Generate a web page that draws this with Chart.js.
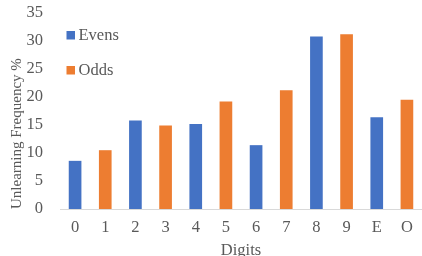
<!DOCTYPE html>
<html>
<head>
<meta charset="utf-8">
<script src="https://cdn.jsdelivr.net/npm/chart.js@4"></script>
<style>
  html, body { margin:0; padding:0; background:#fff; }
  #wrap { width:422px; height:256px; }
</style>
</head>
<body>
<div id="wrap"><canvas id="c"></canvas></div>
<script>
'use strict';
// ── Unlearning frequency by digit ──────────────────────

const digits = ['0', '1', '2', '3', '4', '5', '6', '7', '8', '9', 'E', 'O'];
const evens  = [8.6, null, 15.8, null, 15.2, null, 11.4, null, 30.8, null, 16.4, null];
const odds   = [null, 10.5, null, 14.9, null, 19.2, null, 21.2, null, 31.2, null, 19.5];
const yTicks = [0, 5, 10, 15, 20, 25, 30, 35];

const BLUE = '#4472C4', ORANGE = '#ED7D31', TEXT = '#595959';
const FONT = "'Liberation Serif', 'Times New Roman', serif";

// legend drawn inside the plot, stacked, like the original
const insideLegend = {
  id: 'insideLegend',
  afterDraw(chart) {
    const { ctx, chartArea } = chart;
    ctx.save();
    ctx.font = `16.5px ${FONT}`;
    ctx.textBaseline = 'middle';
    chart.data.datasets.forEach((ds, i) => {
      const y = chartArea.top + 22 + i * 35;
      const x = chartArea.left + 6.5;
      ctx.fillStyle = ds.backgroundColor;
      ctx.fillRect(x, y - 4, 8.5, 8.5);
      ctx.fillStyle = TEXT;
      ctx.fillText(ds.label, x + 12, y + 1);
    });
    ctx.restore();
  },
};

new Chart(document.getElementById('c'), {
  type: 'bar',
  data: {
    labels: digits,
    datasets: [
      { label: 'Evens', data: evens, backgroundColor: BLUE },
      { label: 'Odds',  data: odds,  backgroundColor: ORANGE },
    ],
  },
  options: {
    responsive: true, maintainAspectRatio: false, animation: false,
    layout: { padding: { top: 13, right: 0, left: 0, bottom: 0 } },
    datasets: { bar: { grouped: false, categoryPercentage: 1, barPercentage: 0.42 } },
    plugins: { legend: { display: false }, tooltip: { enabled: false } },
    scales: {
      x: {
        grid: { display: false },
        border: { display: true, color: '#D9D9D9', width: 1 },
        ticks: { color: TEXT, font: { family: FONT, size: 16.5 }, padding: 1 },
        title: { display: true, text: 'Digits', color: TEXT, font: { family: FONT, size: 16.5, lineHeight: 0.6 }, padding: { top: 0, bottom: 0 } },
        afterFit: s => { s.height = 47; s.paddingLeft = 0; s.paddingRight = 0; },
      },
      y: {
        min: 0, max: 35,
        afterBuildTicks: s => { s.ticks = yTicks.map(v => ({ value: v })); },
        grid: { display: false },
        border: { display: false },
        ticks: { color: TEXT, font: { family: FONT, size: 16.5 }, padding: 9 },
        title: { display: true, text: 'Unlearning Frequency %', align: 'start', color: TEXT, font: { family: FONT, size: 15 }, padding: { top: 8, bottom: 0 } },
        afterFit: s => { s.width = 60; s.paddingTop = 0; s.paddingBottom = 0; },
      },
    },
  },
  plugins: [insideLegend],
});
</script>
</body>
</html>
